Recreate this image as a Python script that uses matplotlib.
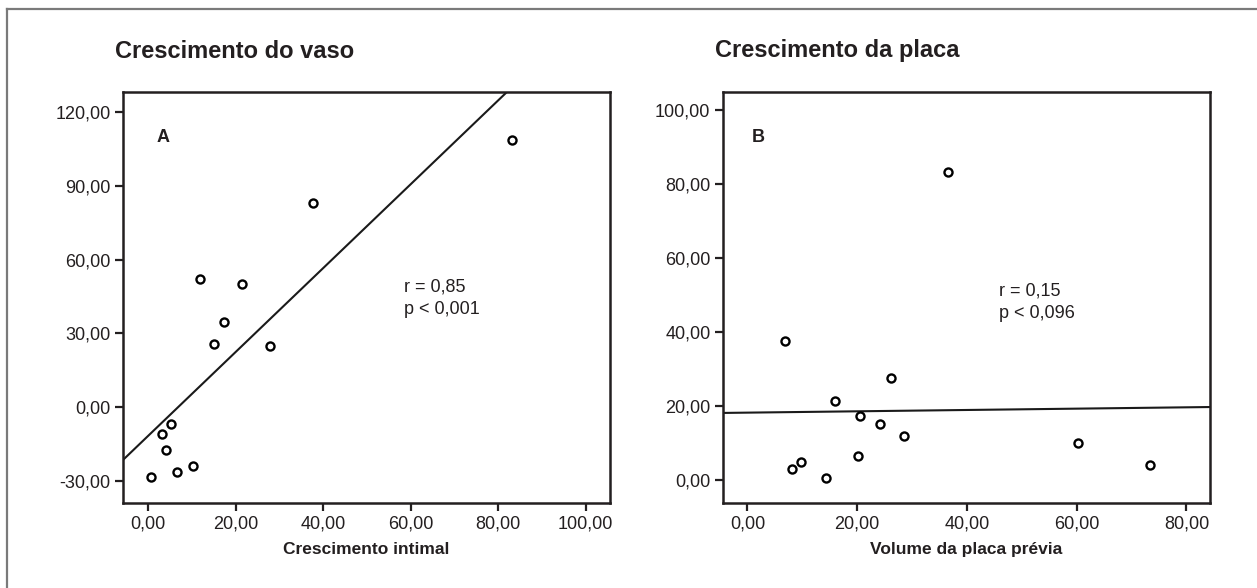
import matplotlib
matplotlib.use('Agg')
import matplotlib.pyplot as plt
from matplotlib.ticker import FuncFormatter
from matplotlib.lines import Line2D
import numpy as np

plt.rcParams['font.family'] = ['Liberation Sans', 'DejaVu Sans']

# painel A - crescimento do vaso x crescimento intimal
intimal = [83.2, 37.7, 11.9, 21.5, 17.3, 15.1, 27.8, 5.1, 3.1, 4.0, 0.65, 6.5, 10.3]
vaso = [108.8, 83.0, 52.3, 50.2, 34.5, 25.7, 25.1, -6.9, -11.0, -17.3, -28.3, -26.3, -24.0]

# painel B - crescimento da placa x volume da placa previa
placa_previa = [6.8, 26.1, 15.9, 20.5, 24.1, 28.5, 20.2, 8.2, 9.8, 14.4, 60.3, 73.3, 36.5]
placa = [37.5, 27.6, 21.3, 17.3, 15.1, 12.0, 6.5, 2.9, 4.9, 0.45, 10.1, 4.0, 83.2]

txt = '#231f20'
comma = FuncFormatter(lambda v, pos: f'{v:.2f}'.replace('.', ','))

fig = plt.figure(figsize=(12.57, 5.88), dpi=100)
fig.patch.set_facecolor('white')

# moldura cinza (so topo e esquerda aparecem)
fig.add_artist(Line2D([7/1257, 7/1257], [0, 1 - 9/588], transform=fig.transFigure,
                      color='#7a7a7a', lw=1.6))
fig.add_artist(Line2D([7/1257, 1], [1 - 9/588, 1 - 9/588], transform=fig.transFigure,
                      color='#7a7a7a', lw=1.6))

axA = fig.add_axes([123/1257, 1 - 503/588, 487/1257, 411/588])
axB = fig.add_axes([723/1257, 1 - 503/588, 487/1257, 411/588])


def scatter_panel(ax, x, y, xlim, ylim, xticks, yticks, letter, letter_x, xlabel):
    ax.plot(x, y, 'o', ms=5.8, mfc='white', mec='black', mew=1.7, zorder=3)
    m, b = np.polyfit(x, y, 1)
    ax.axline((0, b), slope=m, color='#1a1a1a', lw=1.5, zorder=2)
    ax.set_xlim(xlim)
    ax.set_ylim(ylim)
    ax.set_xticks(xticks)
    ax.set_yticks(yticks)
    ax.xaxis.set_major_formatter(comma)
    ax.yaxis.set_major_formatter(comma)
    ax.tick_params(direction='out', length=6, width=1.6, color='#231f20',
                   labelsize=13, labelcolor=txt, pad=3)
    for s in ax.spines.values():
        s.set_linewidth(1.8)
        s.set_color('#231f20')
    ax.text(letter_x, 0.89, letter, transform=ax.transAxes, fontsize=13,
            fontweight='bold', color=txt, va='center', ha='center')
    ax.set_xlabel(xlabel, fontsize=12.5, fontweight='bold', color=txt, labelpad=7)


scatter_panel(axA, intimal, vaso, (-5.8, 105.6), (-39.0, 128.3),
              [0, 20, 40, 60, 80, 100], [-30, 0, 30, 60, 90, 120],
              'A', 0.082, 'Crescimento intimal')
scatter_panel(axB, placa_previa, placa, (-4.45, 84.3), (-6.2, 104.8),
              [0, 20, 40, 60, 80], [0, 20, 40, 60, 80, 100],
              'B', 0.072, 'Volume da placa prévia')

axA.text(0.577, 0.498, 'r = 0,85\np < 0,001', transform=axA.transAxes,
         fontsize=13, color=txt, va='center', ha='left', linespacing=1.4)
axB.text(0.567, 0.489, 'r = 0,15\np < 0,096', transform=axB.transAxes,
         fontsize=13, color=txt, va='center', ha='left', linespacing=1.4)

fig.text(115/1257, 1 - 51/588, 'Crescimento do vaso', fontsize=17,
         fontweight='bold', color=txt, va='center', ha='left')
fig.text(715/1257, 1 - 51/588, 'Crescimento da placa', fontsize=17,
         fontweight='bold', color=txt, va='center', ha='left')

fig.savefig('out.png', dpi=100)
